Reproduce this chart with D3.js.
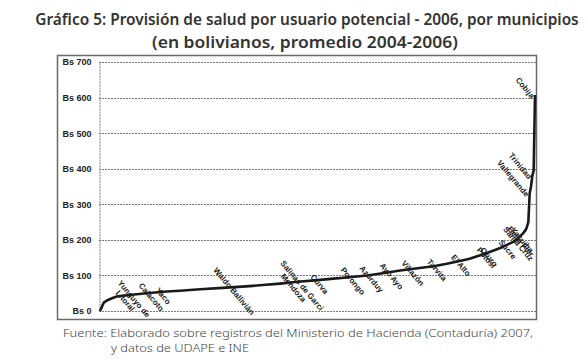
<!DOCTYPE html>
<html>
<head>
<meta charset="utf-8">
<script src="https://cdn.jsdelivr.net/npm/d3@7"></script>
<style>
  body { margin: 0; background: #fff; }
  svg { display: block; }
</style>
</head>
<body>
<svg id="chart" width="588" height="363"></svg>
<script>
const width = 588, height = 363;

// municipalities ranked from lowest to highest (327 in total)
const numMunicipios = 327;
const ranks = [1, 2, 3, 4, 7, 10, 13, 16, 23, 36, 51, 61, 76, 93, 113, 123, 136, 149, 162, 176,
  188, 201, 214, 226, 239, 251, 260, 269, 278, 286, 293, 301, 306, 311, 314, 318, 320, 321,
  322, 323, 324, 325, 326, 327];
const values = [0, 8, 17, 24, 31, 36, 40, 42, 45, 50, 55, 57, 61, 65, 70, 73, 77, 82, 86, 91,
  95, 100, 107, 114, 120, 126, 132, 139, 147, 157, 166, 177, 186, 195, 203, 218, 228, 237,
  250, 330, 350, 380, 395, 607];

// labelled municipalities and their rank
const labelNames = [["Yunguyo de", "Litoral"], ["Calacoto"], ["Yaco"], ["Waldo Ballivián"],
  ["Salinas de Garci", "Mendoza"], ["Curva"], ["Porongo"], ["Azurduy"], ["Ayo Ayo"],
  ["Villazón"], ["Tarvita"], ["El Alto"], ["Potosí"], ["Oruro"], ["Sucre"], ["Santa Cruz"],
  ["Bella Flor"], ["Yacuiba"], ["Vallegrande"], ["Trinidad"], ["Cobija"]];
const labelRanks = [25, 38, 47, 100, 151, 164, 189, 203, 218, 234, 252, 270, 289, 291, 305, 313,
  315, 316, 323, 325, 327];

const yTicks = [0, 100, 200, 300, 400, 500, 600, 700];

const svg = d3.select("#chart");
svg.append("rect").attr("width", width).attr("height", height).attr("fill", "#fff");

// title, squeezed to the reference width
function fitText(g, cx, cy, w, str) {
  const holder = g.append("g");
  const t = holder.append("text").attr("x", 0).attr("y", 0).text(str);
  const len = t.node().getComputedTextLength();
  holder.attr("transform", `translate(${cx},${cy}) scale(${w / len},1)`);
}
const title = svg.append("g")
  .attr("text-anchor", "middle")
  .style("font-family", "'Noto Sans', sans-serif")
  .style("font-weight", 600)
  .style("font-size", "15.5px")
  .attr("fill", "#333");
fitText(title, 307, 25, 544, "Gráfico 5: Provisión de salud por usuario potencial - 2006, por municipios");
fitText(title, 305, 48, 306, "(en bolivianos, promedio 2004-2006)");

// frame
svg.append("rect")
  .attr("x", 57.5).attr("y", 55.5).attr("width", 479).attr("height", 264)
  .attr("fill", "none").attr("stroke", "#6a6a6a").attr("stroke-width", 1.5);

const x = d3.scaleLinear().domain([1, numMunicipios]).range([100, 535]);
const y = d3.scaleLinear().domain([0, 700]).range([311, 62]);

// grid
const grid = svg.append("g");
grid.selectAll("line").data(yTicks).enter().append("line")
  .attr("x1", 99).attr("x2", 536)
  .attr("y1", d => Math.round(y(d)) + 0.5).attr("y2", d => Math.round(y(d)) + 0.5)
  .attr("stroke", "#7a7a7a").attr("stroke-width", 1)
  .attr("stroke-dasharray", "2,1");

const yAxis = svg.append("g")
  .attr("transform", "translate(99.5,0)")
  .call(d3.axisLeft(y).tickValues(yTicks).tickSize(0).tickPadding(8)
    .tickFormat(d => "Bs " + d));
yAxis.select(".domain").attr("stroke", "#7a7a7a").attr("stroke-dasharray", "2,1");
yAxis.selectAll("text")
  .style("font-family", "'Liberation Sans Narrow', 'Liberation Sans', sans-serif")
  .style("font-weight", "bold")
  .style("font-size", "9px")
  .attr("fill", "#222");

// line
const pts = ranks.map((r, i) => [r, values[i]]);
const line = d3.line().x(d => x(d[0])).y(d => y(d[1]));
svg.append("path")
  .datum(pts)
  .attr("d", line)
  .attr("fill", "none")
  .attr("stroke", "#1a1a1a")
  .attr("stroke-width", 2.6)
  .attr("stroke-linejoin", "round");

function valueAt(r) {
  let i = d3.bisectLeft(ranks, r);
  if (ranks[i] === r) return values[i];
  const t = (r - ranks[i - 1]) / (ranks[i] - ranks[i - 1]);
  return values[i - 1] + t * (values[i] - values[i - 1]);
}

// labels
const labels = svg.append("g")
  .style("font-family", "'Liberation Sans Narrow', 'Liberation Sans', sans-serif")
  .style("font-weight", "bold")
  .style("font-size", "8px")
  .attr("fill", "#1a1a1a");

labelNames.forEach(function(name, i) {
  const r = labelRanks[i];
  const endAnchor = r >= 323;
  const px = x(r) + (endAnchor ? -2 : 2), py = y(valueAt(r)) + (endAnchor ? 2 : 4);
  const t = labels.append("text")
    .attr("transform", `translate(${px},${py}) rotate(50)`)
    .attr("text-anchor", endAnchor ? "end" : "middle");
  name.forEach(function(s, j) {
    t.append("tspan").attr("x", j ? -4 : 0).attr("dy", j ? "1em" : "0.35em").text(s);
  });
});

// source note
const note = svg.append("g")
  .style("font-family", "'Noto Sans', sans-serif")
  .style("font-size", "11px")
  .style("font-weight", 300)
  .attr("fill", "#444");
note.append("text").attr("x", 63).attr("y", 337).attr("textLength", 470)
  .attr("lengthAdjust", "spacingAndGlyphs")
  .text("Fuente: Elaborado sobre registros del Ministerio de Hacienda (Contaduría) 2007,");
note.append("text").attr("x", 111).attr("y", 352).attr("textLength", 138)
  .attr("lengthAdjust", "spacingAndGlyphs")
  .text("y datos de UDAPE e INE");
</script>
</body>
</html>
